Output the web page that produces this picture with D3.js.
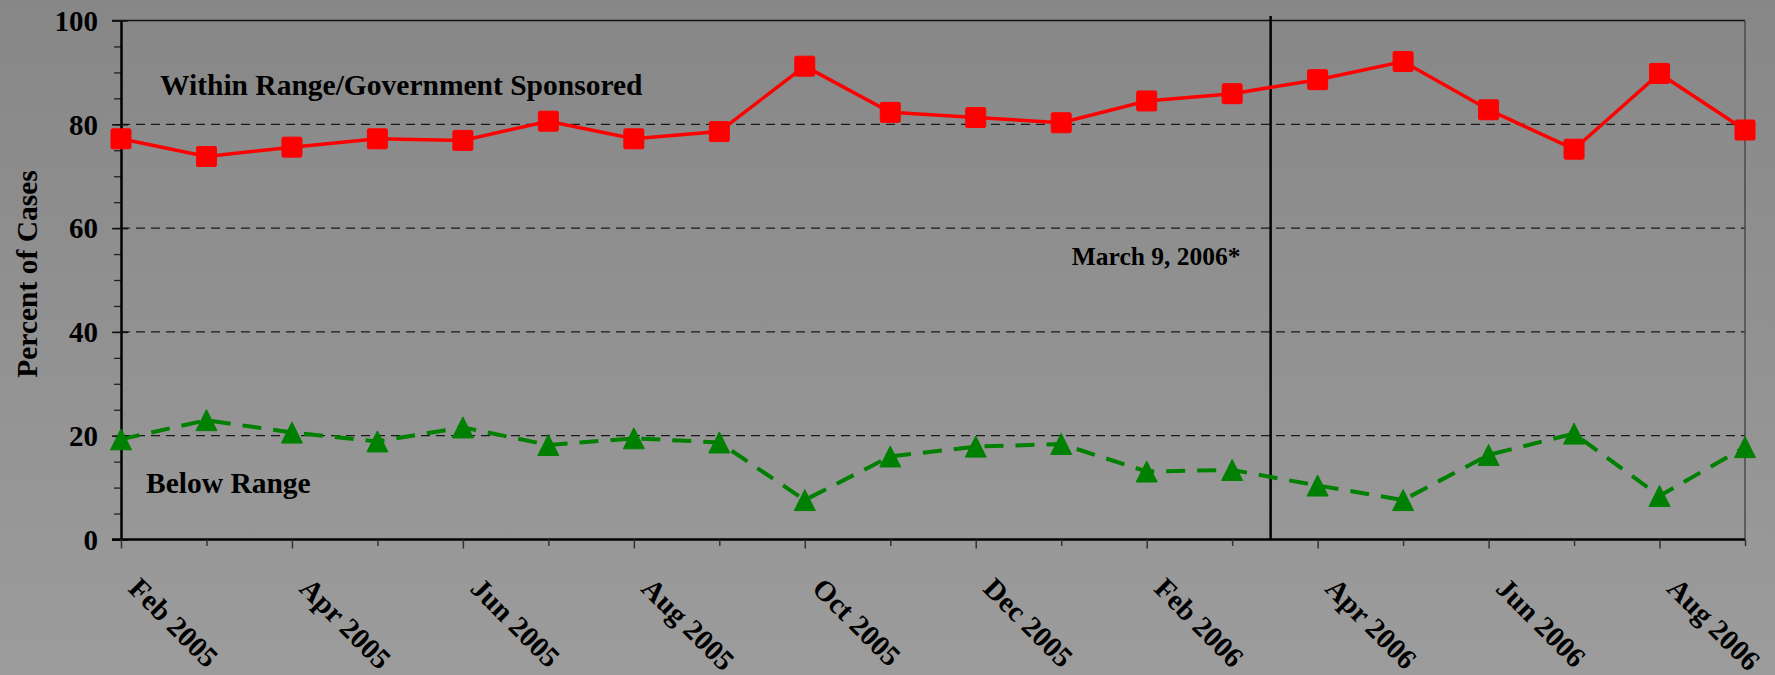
<!DOCTYPE html>
<html>
<head>
<meta charset="utf-8">
<script src="https://cdn.jsdelivr.net/npm/d3@7"></script>
<style>
  body { margin: 0; background: #919191; }
  svg { display: block; }
  text { font-family: "Liberation Serif", "Times New Roman", serif; font-weight: bold; fill: #000; }
</style>
</head>
<body>
<svg width="1775" height="675"></svg>
<script>
// months shown on the x axis (one point per month)
const months = ["Feb 2005", "Mar 2005", "Apr 2005", "May 2005", "Jun 2005", "Jul 2005",
  "Aug 2005", "Sep 2005", "Oct 2005", "Nov 2005", "Dec 2005", "Jan 2006", "Feb 2006",
  "Mar 2006", "Apr 2006", "May 2006", "Jun 2006", "Jul 2006", "Aug 2006", "Sep 2006"];
// only every other month gets a label
const labeledMonths = ["Feb 2005", "Apr 2005", "Jun 2005", "Aug 2005", "Oct 2005",
  "Dec 2005", "Feb 2006", "Apr 2006", "Jun 2006", "Aug 2006"];

const withinRange = [77.2, 73.8, 75.6, 77.2, 76.9, 80.6, 77.2, 78.6, 91.2, 82.3,
  81.3, 80.3, 84.5, 85.9, 88.6, 92.1, 82.8, 75.2, 89.8, 78.9];
const belowRange = [19.3, 23.0, 20.6, 18.9, 21.6, 18.2, 19.5, 18.7, 7.6, 16.0,
  17.9, 18.4, 13.1, 13.4, 10.4, 7.6, 16.3, 20.4, 8.4, 17.8];

const yMajor = [0, 20, 40, 60, 80, 100];
const yMinor = d3.range(0, 101, 5);
const gridValues = [20, 40, 60, 80];

// event marker, position in month-index units
const eventLabel = "March 9, 2006*";
const eventIndex = 13.45;

const svg = d3.select("svg");

// slide-like background gradient
const defs = svg.append("defs");
const grad = defs.append("linearGradient").attr("id", "bg")
  .attr("x1", 0).attr("x2", 0).attr("y1", 0).attr("y2", 1);
grad.append("stop").attr("offset", "0%").attr("stop-color", "#878787");
grad.append("stop").attr("offset", "100%").attr("stop-color", "#9c9c9c");
svg.append("rect").attr("width", 1775).attr("height", 675).attr("fill", "url(#bg)");

const plotLeft = 121, plotRight = 1745, plotTop = 20.5, plotBottom = 539.5;

const x = d3.scaleLinear().domain([0, months.length - 1]).range([plotLeft, plotRight]);
const y = d3.scaleLinear().domain([0, 100]).range([plotBottom, plotTop]);

// gridlines
svg.append("g")
  .selectAll("line")
  .data(gridValues)
  .enter()
  .append("line")
  .attr("x1", plotLeft).attr("x2", plotRight)
  .attr("y1", d => y(d)).attr("y2", d => y(d))
  .attr("stroke", "#1a1a1a")
  .attr("stroke-width", 1.2)
  .attr("stroke-dasharray", "9,6");

// top and right borders
svg.append("line")
  .attr("x1", plotLeft - 9).attr("x2", plotRight)
  .attr("y1", y(100)).attr("y2", y(100))
  .attr("stroke", "#111").attr("stroke-width", 1.5);
svg.append("line")
  .attr("x1", plotRight).attr("x2", plotRight)
  .attr("y1", y(100)).attr("y2", y(0))
  .attr("stroke", "#4a4a4a").attr("stroke-width", 1.5);

// y axis: minor ticks, then major ticks with labels
svg.append("g")
  .attr("transform", `translate(${plotLeft},0)`)
  .call(d3.axisLeft(y).tickValues(yMinor).tickSize(7).tickSizeOuter(0).tickFormat(""))
  .call(g => g.select(".domain").remove())
  .call(g => g.selectAll("line").attr("stroke", "#222").attr("stroke-width", 1.3));

const yAxis = svg.append("g")
  .attr("transform", `translate(${plotLeft},0)`)
  .call(d3.axisLeft(y).tickValues(yMajor).tickSize(9).tickSizeOuter(0).tickPadding(14));
yAxis.select(".domain").attr("stroke", "#000").attr("stroke-width", 2.5);
yAxis.selectAll(".tick line").attr("stroke", "#111").attr("stroke-width", 1.5).attr("x2", 7).attr("x1", -9);
yAxis.selectAll(".tick text")
  .attr("font-family", "Liberation Serif")
  .attr("font-weight", "bold")
  .attr("font-size", 29)
  .attr("fill", "#000")
  .attr("dy", "0.34em");

// y title
svg.append("text")
  .attr("transform", `translate(37,${(plotTop + plotBottom) / 2 - 6}) rotate(-90)`)
  .attr("text-anchor", "middle")
  .attr("font-size", 29.5)
  .text("Percent of Cases");

// x axis
const xAxis = svg.append("g")
  .attr("transform", `translate(0,${plotBottom})`)
  .call(d3.axisBottom(x)
    .tickValues(d3.range(months.length).filter(i => !labeledMonths.includes(months[i])))
    .tickSize(6.5).tickSizeOuter(0).tickFormat(""));
xAxis.selectAll(".tick line").attr("stroke", "#333").attr("stroke-width", 1.5);
xAxis.select(".domain").attr("stroke", "#000").attr("stroke-width", 2.5)
  .attr("d", `M${plotLeft - 9},0H${plotRight}`);

const xLab = svg.append("g")
  .attr("transform", `translate(0,${plotBottom})`)
  .call(d3.axisBottom(x)
    .tickValues(labeledMonths.map(m => months.indexOf(m)))
    .tickSize(9).tickSizeOuter(0).tickFormat(""));
xLab.select(".domain").remove();
xLab.selectAll(".tick line").attr("stroke", "#333").attr("stroke-width", 1.5);

svg.append("g")
  .selectAll("text")
  .data(labeledMonths)
  .enter()
  .append("text")
  .attr("transform", m => `translate(${x(months.indexOf(m)) + 6},590) rotate(45)`)
  .attr("text-anchor", "start")
  .attr("font-size", 29)
  .text(m => m);

// event line
svg.append("line")
  .attr("x1", x(eventIndex)).attr("x2", x(eventIndex))
  .attr("y1", plotTop - 4.5).attr("y2", plotBottom)
  .attr("stroke", "#000").attr("stroke-width", 2.5);
svg.append("text")
  .attr("x", x(eventIndex) - 30)
  .attr("y", 265)
  .attr("text-anchor", "end")
  .attr("font-size", 25.5)
  .text(eventLabel);

// series lines
const line = d3.line()
  .x((d, i) => x(i))
  .y(d => y(d));

svg.append("path")
  .attr("d", line(belowRange))
  .attr("fill", "none")
  .attr("stroke", "#008000")
  .attr("stroke-width", 4)
  .attr("stroke-dasharray", "19,12");

svg.append("path")
  .attr("d", line(withinRange))
  .attr("fill", "none")
  .attr("stroke", "#ff0000")
  .attr("stroke-width", 3.5);

// markers
const tri = 21;
svg.append("g")
  .selectAll("path")
  .data(belowRange)
  .enter()
  .append("path")
  .attr("d", (d, i) => {
    const cx = x(i), cy = y(d);
    return `M${cx},${cy - tri / 2}L${cx + tri / 2},${cy + tri / 2}L${cx - tri / 2},${cy + tri / 2}Z`;
  })
  .attr("fill", "#008000")
  .attr("stroke", "#008000")
  .attr("stroke-width", 1)
  .attr("stroke-linejoin", "round");

const sq = 20;
svg.append("g")
  .selectAll("rect")
  .data(withinRange)
  .enter()
  .append("rect")
  .attr("x", (d, i) => x(i) - sq / 2)
  .attr("y", d => y(d) - sq / 2)
  .attr("width", sq)
  .attr("height", sq)
  .attr("rx", 1.5)
  .attr("fill", "#ff0000")
  .attr("stroke", "#ff0000")
  .attr("stroke-width", 1);

// series labels
svg.append("text")
  .attr("x", 160).attr("y", 95)
  .attr("font-size", 29.5)
  .text("Within Range/Government Sponsored");
svg.append("text")
  .attr("x", 146).attr("y", 493)
  .attr("font-size", 29.5)
  .text("Below Range");
</script>
</body>
</html>
